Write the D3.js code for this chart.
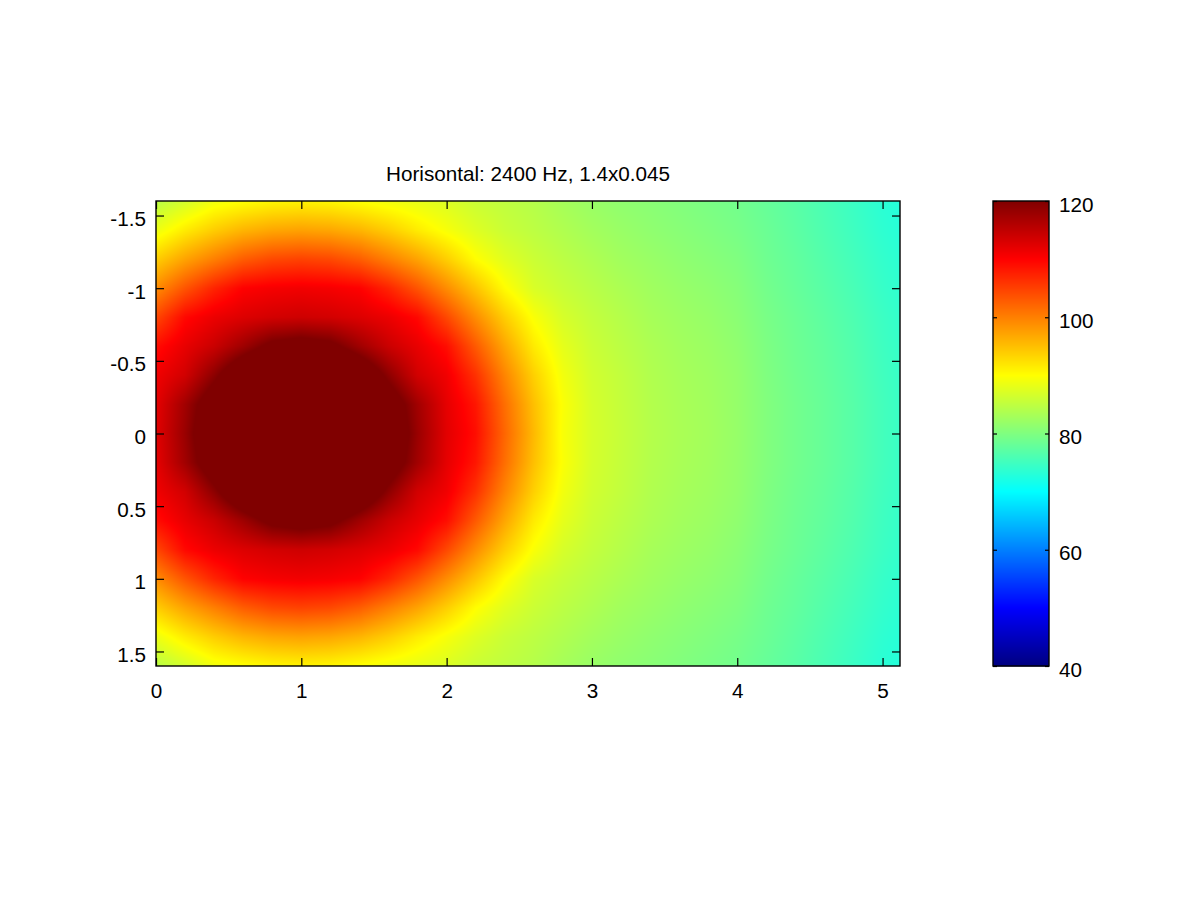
<!DOCTYPE html>
<html><head><meta charset="utf-8">
<script src="https://cdn.jsdelivr.net/npm/d3@7"></script>
<style>html,body{margin:0;background:#fff}svg{display:block}text{font-family:"Liberation Sans",Arial,sans-serif;fill:#000}</style>
</head><body><div id="chart"></div>
<script>
const titleText = "Horisontal: 2400 Hz, 1.4x0.045";
const xGrid = [0,0.2,0.4,0.6,0.8,1,1.2,1.4,1.6,1.8,2,2.2,2.4,2.6,2.8,3,3.2,3.4,3.6,3.8,4,4.2,4.4,4.6,4.8,5,5.12];
const yGrid = [-1.6,-1.4,-1.2,-1,-0.8,-0.6,-0.4,-0.2,0,0.2,0.4,0.6,0.8,1,1.2,1.4,1.6];
const xTicks = [0,1,2,3,4,5];
const yTicks = [-1.5,-1,-0.5,0,0.5,1,1.5];
const barTicks = [40,60,80,100,120];
const colorStops = [40,50,70,90,110,120];
const colorValues = ["#000080","#0000ff","#00ffff","#ffff00","#ff0000","#800000"];
const levels = [
[84.5,86.5,88.9,89.8,90.6,90.9,90.6,89.8,88.9,88.1,87.2,85.8,85,84.2,83,82,81.3,80.8,80.2,79.6,79,78,77,75.8,74.6,73.3,72.8],
[88.5,91.5,93.9,95.8,96.9,97.3,96.9,95.8,93.9,91.5,89.4,87.4,85.8,84.8,83.8,82.8,82,81.3,80.7,80.1,79.4,78.4,77.3,76.1,74.9,73.6,73.1],
[93.8,97.2,100,102.7,104.3,104.8,104.3,102.7,100,97.2,93.8,90.1,87.6,85.9,84.7,83.7,82.7,82,81.3,80.7,80,78.7,77.7,76.5,75.3,74,73.4],
[99,103.4,107.2,110,110.7,111,110.7,110,107.2,103.4,99,94.6,90.2,87,85.6,84.5,83.5,82.6,81.9,81.3,80.5,79.1,78,76.9,75.7,74.3,73.7],
[104.4,109.4,111.5,112.7,113.5,113.9,113.5,112.7,111.5,109.4,104.4,99,93.9,89.6,86.8,85.3,84.2,83.1,82.4,81.8,80.9,79.5,78.4,77.3,76.1,74.7,74],
[109,111.8,114.2,117.6,121.4,122.6,121.4,117.6,114.2,111.8,109,103,97,91.6,88,85.9,84.7,83.6,82.8,82.2,81.3,79.8,78.6,77.6,76.4,74.9,74.2],
[111.1,113.6,119,125.2,129.5,131,129.5,125.2,119,113.6,111.1,106.2,99.6,93.7,89,86.4,85.2,83.9,83.1,82.5,81.6,80,78.8,77.8,76.6,75.1,74.4],
[112,117.4,123.5,130.3,134,135.7,134,130.3,123.5,117.4,112,108.3,101.4,95,89.7,86.7,85.4,84.1,83.3,82.7,81.7,80.2,79,78,76.8,75.3,74.5],
[112.3,118,125,132,136,138,136,132,125,118,112.3,109,102,95.5,89.5,86.8,85.5,84.2,83.4,82.8,81.8,80.2,79,78,76.8,75.3,74.5],
[112,117.4,123.5,130.3,134,135.7,134,130.3,123.5,117.4,112,108.3,101.4,95,89.7,86.7,85.4,84.1,83.3,82.7,81.7,80.2,79,78,76.8,75.3,74.5],
[111.1,113.6,119,125.2,129.5,131,129.5,125.2,119,113.6,111.1,106.2,99.6,93.7,89,86.4,85.2,83.9,83.1,82.5,81.6,80,78.8,77.8,76.6,75.1,74.4],
[109,111.8,114.2,117.6,121.4,122.6,121.4,117.6,114.2,111.8,109,103,97,91.6,88,85.9,84.7,83.6,82.8,82.2,81.3,79.8,78.6,77.6,76.4,74.9,74.2],
[104.4,109.4,111.5,112.7,113.5,113.9,113.5,112.7,111.5,109.4,104.4,99,93.9,89.6,86.8,85.3,84.2,83.1,82.4,81.8,80.9,79.5,78.4,77.3,76.1,74.7,74],
[99,103.4,107.2,110,110.7,111,110.7,110,107.2,103.4,99,94.6,90.2,87,85.6,84.5,83.5,82.6,81.9,81.3,80.5,79.1,78,76.9,75.7,74.3,73.7],
[93.8,97.2,100,102.7,104.3,104.8,104.3,102.7,100,97.2,93.8,90.1,87.6,85.9,84.7,83.7,82.7,82,81.3,80.7,80,78.7,77.7,76.5,75.3,74,73.4],
[88.5,91.5,93.9,95.8,96.9,97.3,96.9,95.8,93.9,91.5,89.4,87.4,85.8,84.8,83.8,82.8,82,81.3,80.7,80.1,79.4,78.4,77.3,76.1,74.9,73.6,73.1],
[84.5,86.5,88.9,89.8,90.6,90.9,90.6,89.8,88.9,88.1,87.2,85.8,85,84.2,83,82,81.3,80.8,80.2,79.6,79,78,77,75.8,74.6,73.3,72.8]
];

const W = 1200, H = 900;
const plot = {left:156, right:900, top:201, bottom:666};
const bar = {left:993, right:1049};
const fontSize = 20.7, tickLen = 8, barTickLen = 4;

const x = d3.scaleLinear().domain([0,5.12]).range([plot.left,plot.right]);
const y = d3.scaleLinear().domain([-1.6,1.6]).range([plot.top,plot.bottom]);
const c = d3.scaleLinear().domain([40,120]).range([plot.bottom,plot.top]);
const jet = d3.scaleLinear().domain(colorStops).range(colorValues).clamp(true);

const xi = d3.scaleLinear().domain(xGrid).range(xGrid.map((_,i)=>i)).clamp(true);
const yi = d3.scaleLinear().domain(yGrid).range(yGrid.map((_,i)=>i)).clamp(true);

// shaded surface: one canvas pixel per screen pixel, colour from the value table
const pw = plot.right-plot.left, ph = plot.bottom-plot.top;
const cv = document.createElement("canvas"); cv.width=pw; cv.height=ph;
const ctx = cv.getContext("2d");
const img = ctx.createImageData(pw,ph);
for(let j=0;j<ph;j++){
  const fy = yi(y.invert(plot.top+j+0.5)), j0 = Math.min(Math.floor(fy),yGrid.length-2), ty = fy-j0;
  for(let i=0;i<pw;i++){
    const fx = xi(x.invert(plot.left+i+0.5)), i0 = Math.min(Math.floor(fx),xGrid.length-2), tx = fx-i0;
    const v = d3.interpolateNumber(
      d3.interpolateNumber(levels[j0][i0],levels[j0][i0+1])(tx),
      d3.interpolateNumber(levels[j0+1][i0],levels[j0+1][i0+1])(tx))(ty);
    const col = d3.rgb(jet(v)), k=(j*pw+i)*4;
    img.data[k]=col.r; img.data[k+1]=col.g; img.data[k+2]=col.b; img.data[k+3]=255;
  }
}
ctx.putImageData(img,0,0);

const svg = d3.select("#chart").append("svg").attr("width",W).attr("height",H);
svg.append("rect").attr("width",W).attr("height",H).attr("fill","#fff");
svg.append("image").attr("x",plot.left).attr("y",plot.top).attr("width",pw).attr("height",ph)
   .attr("href",cv.toDataURL());

// colour bar
const barRows = d3.range(plot.top,plot.bottom);
svg.append("g").selectAll("rect").data(barRows).join("rect")
  .attr("x",bar.left).attr("width",bar.right-bar.left)
  .attr("y",d=>d).attr("height",1.5)
  .attr("fill",d=>jet(c.invert(d+0.5)));

function style(g){ g.select(".domain").remove(); g.selectAll("line").attr("stroke","#000").attr("stroke-width",1.2);
  g.selectAll("text").attr("font-size",fontSize).attr("fill","#000"); }

// main axes (ticks point inwards on all four sides)
svg.append("g").attr("transform",`translate(0,${plot.bottom})`)
  .call(d3.axisBottom(x).tickValues(xTicks).tickFormat(d3.format("d")).tickSize(-tickLen).tickPadding(0))
  .call(style).selectAll("text").attr("y",32).attr("dy",0);
svg.append("g").attr("transform",`translate(0,${plot.top})`)
  .call(d3.axisTop(x).tickValues(xTicks).tickFormat("").tickSize(-tickLen)).call(style);
svg.append("g").attr("transform",`translate(${plot.left},0)`)
  .call(d3.axisLeft(y).tickValues(yTicks).tickFormat(d=>String(d)).tickSize(-tickLen))
  .call(style).selectAll("text").attr("x",-10).attr("y",3.5);
svg.append("g").attr("transform",`translate(${plot.right},0)`)
  .call(d3.axisRight(y).tickValues(yTicks).tickFormat("").tickSize(-tickLen)).call(style);

// colour bar axes
svg.append("g").attr("transform",`translate(${bar.right},0)`)
  .call(d3.axisRight(c).tickValues(barTicks).tickFormat(d3.format("d")).tickSize(-barTickLen))
  .call(style).selectAll("text").attr("x",10).attr("y",3.5);
svg.append("g").attr("transform",`translate(${bar.left},0)`)
  .call(d3.axisLeft(c).tickValues(barTicks).tickFormat("").tickSize(-barTickLen)).call(style);

// frames
[[plot.left,plot.right],[bar.left,bar.right]].forEach(([a,b])=>{
  svg.append("rect").attr("x",a).attr("y",plot.top).attr("width",b-a).attr("height",ph)
    .attr("fill","none").attr("stroke","#000").attr("stroke-width",1.4);
});

svg.append("text").attr("x",528).attr("y",181).attr("text-anchor","middle")
  .attr("font-size",fontSize).text(titleText);
</script></body></html>
